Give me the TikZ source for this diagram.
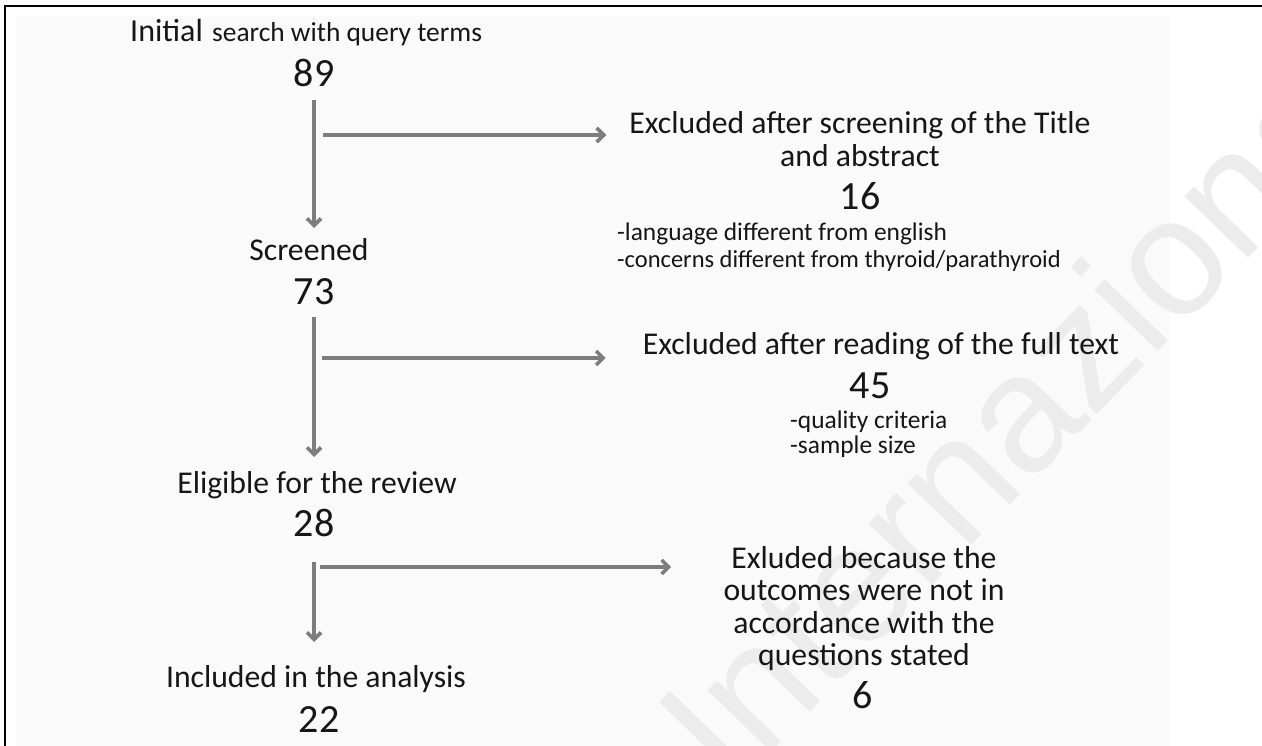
\documentclass[tikz,border=0pt]{standalone}
\usepackage{fontspec}
\setmainfont{Carlito}
\newfontfamily\wmfont{Liberation Sans}
\usetikzlibrary{arrows.meta,calc}
\definecolor{txt}{RGB}{22,22,22}
\definecolor{arrgray}{RGB}{125,125,125}
\definecolor{panel}{RGB}{250,250,250}
\definecolor{wm}{RGB}{236,236,236}
\begin{document}
\begin{tikzpicture}[x=1pt,y=-1pt,
  lbl/.style={inner sep=0pt, anchor=base, text=txt, font=\fontsize{31.7}{34}\selectfont},
  num/.style={inner sep=0pt, anchor=base, text=txt, font=\fontsize{40}{44}\selectfont},
  note/.style={inner sep=0pt, anchor=base west, text=txt, font=\fontsize{25.4}{28}\selectfont},
  arr/.style={draw=arrgray, line width=3.6pt, -{Straight Barb[length=7pt,width=14pt]}},
  frameline/.style={draw=black, line width=2pt}]
\useasboundingbox (0,0) rectangle (1262,746);
\fill[white] (0,0) rectangle (1262,746);
\fill[panel] (16,16) rectangle (1170,746);
% watermark
\begin{scope}
\clip (0,0) rectangle (1262,746);
\node[inner sep=0pt, anchor=base west, rotate=46, text=wm, font=\wmfont\fontsize{167}{167}\selectfont] (wmark) at (731,794) {Internazionale};
\end{scope}
% frame
\draw[frameline] (5,746) -- (5,6) -- (1262,6);
% left column
\node[inner sep=0pt, anchor=base west, text=txt] (init) at (130,42) {{\fontsize{32}{36}\selectfont Initial}\hspace{7pt} {\fontsize{27.4}{30}\selectfont search with query terms}};
\node[num] (n89) at (314,87) {89};
\node[lbl] (scr) at (309,261) {Screened};
\node[num] (n73) at (314,305) {73};
\node[lbl] (elig) at (317,493) {Eligible for the review};
\node[num] (n28) at (314,536) {28};
\node[lbl] (incl) at (316,687) {Included in the analysis};
\node[num] (n22) at (319,732) {22};
% right column
\node[lbl] (ex1) at (860,134) {Excluded after screening of the Title};
\node[lbl] (ex1b) at (860,167) {and abstract};
\node[num] (n16) at (860,210) {16};
\node[note] (r1a) at (617,241) {-language different from english};
\node[note, font=\fontsize{24.5}{27}\selectfont] (r1b) at (617,268) {-concerns different from thyroid/parathyroid};
\node[lbl] (ex2) at (881,354) {Excluded after reading of the full text};
\node[num] (n45) at (870,398) {45};
\node[note] (r2a) at (790,428) {-quality criteria};
\node[note] (r2b) at (790,453) {-sample size};
\node[lbl] (ex3a) at (864,568) {Exluded because the};
\node[lbl] (ex3b) at (864,600) {outcomes were not in};
\node[lbl] (ex3c) at (864,633) {accordance with the};
\node[lbl] (ex3d) at (864,665) {questions stated};
\node[num] (n6) at (863,708) {6};
% connectors
\coordinate (s1) at ($(n89.base)+(0,13)$);
\coordinate (s2) at ($(n73.base)+(0,12)$);
\coordinate (s3) at ($(n28.base)+(0,26)$);
\coordinate (h1) at ($(s1)+(9,35)$);
\coordinate (h2) at ($(s2)+(8,41)$);
\coordinate (h3) at ($(s3)+(6,5)$);
\draw[arr, shorten >=33pt] (s1) -- (s1 |- scr.base);
\draw[arr, shorten >=36pt] (s2) -- (s2 |- elig.base);
\draw[arr, shorten >=45pt] (s3) -- (s3 |- incl.base);
\draw[arr, shorten >=23pt] (h1) -- (h1 -| ex1.west);
\draw[arr, shorten >=37pt] (h2) -- (h2 -| ex2.west);
\draw[arr, shorten >=60pt] (h3) -- (h3 -| ex3a.west);
\end{tikzpicture}
\end{document}
